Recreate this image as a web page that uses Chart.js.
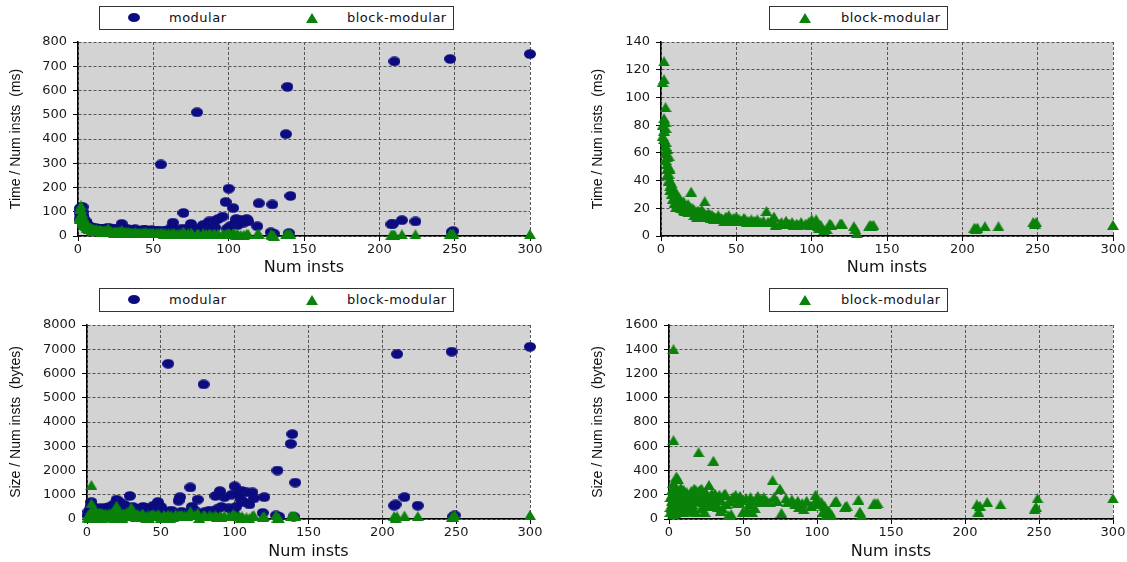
<!DOCTYPE html>
<html lang="en">
<head>
<meta charset="UTF-8">
<title>Time and size per instance</title>
<script src="https://cdn.jsdelivr.net/npm/chart.js@4.4.0/dist/chart.umd.min.js"></script>
<style>
    body { margin: 0; background: #fff; width: 1127px; height: 562px; position: relative; overflow: hidden; font-family: "DejaVu Sans", sans-serif; }
    canvas { position: absolute; }
    .legend { position: absolute; height: 24px; border: 1px solid #333; box-sizing: border-box; background: #fff; font-size: 13px; letter-spacing: 0.5px; color: #111; }
    .legend span { position: absolute; top: 3px; line-height: 16px; white-space: nowrap; }
    .dot { position: absolute; width: 12px; height: 9px; border-radius: 50%; background: #0c0c80; }
    .tri { position: absolute; width: 0; height: 0; border-left: 6px solid transparent; border-right: 6px solid transparent; border-bottom: 10px solid #0a820a; }
</style>
</head>
<body>

<div class="legend" style="left:99px; top:6px; width:355px;">
    <div class="dot" style="left:28px; top:6px;"></div><span style="left:69px;">modular</span>
    <div class="tri" style="left:206px; top:6px;"></div><span style="left:247px;">block-modular</span>
</div>
<div class="legend" style="left:769px; top:6px; width:179px;">
    <div class="tri" style="left:29px; top:6px;"></div><span style="left:71px;">block-modular</span>
</div>
<div class="legend" style="left:99px; top:288px; width:355px;">
    <div class="dot" style="left:28px; top:6px;"></div><span style="left:69px;">modular</span>
    <div class="tri" style="left:206px; top:6px;"></div><span style="left:247px;">block-modular</span>
</div>
<div class="legend" style="left:769px; top:288px; width:179px;">
    <div class="tri" style="left:29px; top:6px;"></div><span style="left:71px;">block-modular</span>
</div>

<canvas id="timeBoth" width="560" height="280" style="left:0px; top:0px;"></canvas>
<canvas id="timeBlock" width="567" height="280" style="left:560px; top:0px;"></canvas>
<canvas id="sizeBoth" width="560" height="282" style="left:0px; top:280px;"></canvas>
<canvas id="sizeBlock" width="567" height="282" style="left:560px; top:280px;"></canvas>

<script>
    // number of instructions per benchmark (shared by all four plots)
    const instsX = [
        1, 1, 1, 2, 2, 2, 2, 3, 3, 3,
        3, 3, 4, 4, 4, 5, 5, 5, 6, 6,
        6, 7, 7, 8, 8, 9, 9, 10, 10, 11,
        12, 12, 13, 14, 15, 15, 16, 17, 18, 19,
        20, 20, 21, 22, 23, 24, 25, 26, 27, 28,
        29, 29, 30, 31, 32, 33, 34, 35, 36, 38,
        40, 41, 43, 45, 46, 48, 50, 52, 54, 55,
        56, 58, 60, 62, 63, 64, 66, 68, 70, 71,
        73, 75, 76, 79, 80, 83, 85, 87, 88, 90,
        91, 93, 96, 98, 99, 100, 101, 103, 104, 105,
        106, 108, 110, 112, 113, 119, 120, 128, 129, 130,
        138, 139, 140, 141, 208, 209, 210, 215, 224, 247,
        248, 249, 300,
        2, 3, 3, 4, 4, 5, 6, 7, 8, 9,
        10, 11, 13, 14, 16, 17, 18, 19, 21, 22,
        24, 25, 27, 28, 31, 33, 35, 37, 39, 42,
        44, 47, 49, 53, 57
    ];
    // time / num insts (ms)
    const modTime = [
        112, 95, 70, 118, 105, 90, 80, 120, 100, 85,
        75, 65, 70, 60, 52, 62, 50, 44, 50, 42,
        38, 42, 36, 38, 32, 35, 30, 33, 28, 30,
        32, 27, 30, 28, 30, 25, 28, 27, 30, 26,
        35, 28, 26, 30, 25, 27, 24, 26, 25, 23,
        50, 26, 24, 22, 25, 23, 22, 24, 21, 28,
        22, 20, 23, 25, 20, 22, 20, 19, 21, 295,
        18, 20, 22, 35, 55, 25, 20, 28, 95, 30,
        25, 50, 22, 510, 30, 45, 35, 60, 30, 60,
        35, 70, 80, 140, 30, 195, 40, 115, 50, 70,
        45, 65, 55, 70, 60, 40, 135, 15, 130, 10,
        420, 615, 12, 165, 48, 50, 720, 65, 60, 730,
        15, 20, 750,
        85, 78, 72, 65, 48, 55, 45, 40, 35, 32,
        30, 28, 27, 30, 26, 29, 25, 28, 30, 24,
        23, 27, 22, 26, 25, 27, 21, 24, 22, 21,
        24, 21, 23, 20, 22
    ];
    const blockTime = [
        111, 80, 72, 126, 113, 85, 76, 93, 82, 78,
        68, 60, 63, 57, 48, 58, 50, 45, 48, 40,
        36, 38, 33, 35, 30, 32, 27, 30, 24, 26,
        28, 22, 24, 21, 25, 19, 22, 20, 23, 18,
        32, 20, 17, 19, 16, 18, 15, 17, 19, 14,
        25, 16, 15, 14, 16, 13, 15, 14, 13, 15,
        13, 12, 14, 15, 12, 13, 14, 12, 11, 13,
        12, 11, 12, 11, 10, 12, 10, 11, 18, 10,
        11, 14, 8, 9, 10, 11, 9, 10, 8, 9,
        8, 10, 9, 10, 8, 12, 9, 12, 7, 6,
        8, 4, 5, 9, 8, 9, 9, 7, 5, 2,
        7, 8, 7, 8, 6, 5, 6, 7, 7, 10,
        9, 10, 8,
        70, 65, 55, 52, 44, 40, 33, 30, 27, 24,
        21, 23, 20, 24, 18, 22, 17, 21, 20, 15,
        14, 18, 14, 17, 16, 15, 12, 13, 12, 11,
        13, 11, 12, 11, 10
    ];
    // size / num insts (bytes)
    const modSize = [
        150, 300, 120, 250, 400, 180, 100, 700, 550, 300,
        200, 120, 350, 200, 150, 450, 250, 150, 400, 220,
        100, 300, 150, 350, 180, 250, 120, 300, 150, 200,
        450, 150, 300, 200, 500, 150, 400, 250, 600, 300,
        800, 650, 400, 700, 300, 450, 250, 350, 500, 200,
        950, 400, 300, 200, 350, 150, 300, 400, 250, 500,
        450, 300, 350, 550, 200, 700, 500, 300, 250, 6400,
        200, 300, 100, 750, 900, 300, 200, 250, 1300, 500,
        350, 800, 200, 5550, 300, 350, 250, 950, 400, 1150,
        500, 900, 450, 1000, 300, 1350, 500, 1050, 800, 1150,
        700, 1100, 600, 1100, 850, 250, 900, 150, 2000, 100,
        3100, 3500, 100, 1500, 550, 600, 6800, 900, 550, 6900,
        100, 150, 7100,
        200, 450, 250, 500, 300, 350, 250, 400, 200, 450,
        350, 250, 200, 350, 300, 450, 200, 500, 550, 250,
        200, 600, 300, 450, 500, 400, 200, 450, 300, 250,
        400, 300, 450, 300, 350
    ];
    const blockSize = [
        100, 180, 60, 200, 120, 240, 90, 1400, 650, 160,
        80, 40, 200, 120, 70, 350, 150, 90, 330, 180,
        60, 220, 110, 260, 140, 200, 80, 240, 120, 160,
        220, 100, 190, 130, 230, 90, 200, 150, 240, 160,
        550, 230, 180, 250, 140, 200, 120, 170, 280, 110,
        210, 150, 480, 130, 180, 100, 200, 160, 90, 210,
        30, 150, 180, 200, 130, 190, 60, 170, 120, 180,
        60, 90, 190, 160, 140, 180, 150, 140, 320, 180,
        150, 250, 50, 170, 140, 160, 120, 150, 100, 130,
        80, 150, 110, 130, 200, 150, 120, 140, 60, 110,
        30, 70, 30, 140, 150, 100, 110, 160, 60, 30,
        120, 130, 120, 130, 120, 60, 110, 140, 120, 80,
        100, 170, 170,
        150, 300, 100, 250, 50, 210, 120, 160, 80, 230,
        60, 200, 70, 180, 120, 250, 60, 200, 240, 90,
        60, 220, 130, 190, 210, 170, 70, 200, 120, 40,
        170, 140, 160, 80, 150
    ];

    const navy = '#0c0c80';
    const green = '#0a820a';

    // stretched markers like in the original plot
    function dotImage() {
        var c = document.createElement('canvas');
        c.width = 12; c.height = 10;
        var g = c.getContext('2d');
        g.fillStyle = navy;
        g.beginPath();
        g.ellipse(6, 5, 6, 4.8, 0, 0, Math.PI * 2);
        g.fill();
        return c;
    }
    function triImage() {
        var c = document.createElement('canvas');
        c.width = 12; c.height = 10;
        var g = c.getContext('2d');
        g.fillStyle = green;
        g.beginPath();
        g.moveTo(6, 0);
        g.lineTo(12, 10);
        g.lineTo(0, 10);
        g.closePath();
        g.fill();
        return c;
    }
    const dotImg = dotImage();
    const triImg = triImage();

    function pairs(xs, ys) {
        return xs.map(function (x, i) { return {x: x, y: ys[i]}; });
    }

    // gray plot background
    const plotBg = {
        id: 'plotBg',
        beforeDraw(chart) {
            var a = chart.chartArea;
            var ctx = chart.ctx;
            ctx.save();
            ctx.fillStyle = '#d3d3d3';
            ctx.fillRect(a.left, a.top, a.right - a.left, a.bottom - a.top);
            ctx.restore();
        }
    };

    const tickFont = {family: 'DejaVu Sans', size: 13};
    const gridOpts = {color: '#555', lineWidth: 1, tickColor: '#000', tickLength: 5, tickBorderDash: []};
    const borderOpts = {color: '#000', width: 1.5, dash: [3, 2]};
    const plain = function (v) { return String(v); };

    function makeChart(id, o) {
        var datasets = [];
        if (o.mod) {
            datasets.push({label: 'modular', data: pairs(instsX, o.mod), pointStyle: dotImg, order: 2, clip: false});
        }
        datasets.push({label: 'block-modular', data: pairs(instsX, o.block), pointStyle: triImg, order: 1, clip: false});

        new Chart(id, {
            type: 'scatter',
            data: {datasets: datasets},
            plugins: [plotBg],
            options: {
                responsive: false,
                animation: false,
                layout: {padding: {top: o.top, right: o.right, left: 0, bottom: 0}},
                plugins: {legend: {display: false}, tooltip: {enabled: false}},
                scales: {
                    x: {
                        type: 'linear', min: 0, max: 300,
                        ticks: {stepSize: 50, font: tickFont, color: '#1a1a1a', padding: 1, maxRotation: 0, callback: plain},
                        grid: gridOpts,
                        border: borderOpts,
                        title: {display: true, text: 'Num insts', color: '#111',
                            font: {family: 'DejaVu Sans', size: 16}, padding: {top: 0, bottom: o.xPad}},
                        afterFit: function (s) { s.height = o.xh; }
                    },
                    y: {
                        min: 0, max: o.yMax,
                        ticks: {stepSize: o.yStep, font: tickFont, color: '#1a1a1a', padding: 6, callback: plain},
                        grid: gridOpts,
                        border: borderOpts,
                        title: {display: true, text: o.yTitle, color: '#111',
                            font: {family: 'Liberation Sans', size: 14}, padding: {top: o.yPad, bottom: 0}},
                        afterFit: function (s) { s.width = o.yw; }
                    }
                }
            }
        });
    }

    makeChart('timeBoth', {mod: modTime, block: blockTime, yMax: 800, yStep: 100,
        yTitle: 'Time / Num insts  (ms)', top: 42, right: 30, xh: 44, yw: 78, yPad: 7.6, xPad: 2.4});
    makeChart('timeBlock', {block: blockTime, yMax: 140, yStep: 20,
        yTitle: 'Time / Num insts  (ms)', top: 42, right: 14, xh: 44, yw: 101, yPad: 29.6, xPad: 2.4});
    makeChart('sizeBoth', {mod: modSize, block: blockSize, yMax: 8000, yStep: 1000,
        yTitle: 'Size / Num insts  (bytes)', top: 45, right: 30, xh: 43, yw: 87, yPad: 7.6, xPad: 0.7});
    makeChart('sizeBlock', {block: blockSize, yMax: 1600, yStep: 200,
        yTitle: 'Size / Num insts  (bytes)', top: 45, right: 14, xh: 43, yw: 109, yPad: 29.6, xPad: 0.4});
</script>

</body>
</html>
